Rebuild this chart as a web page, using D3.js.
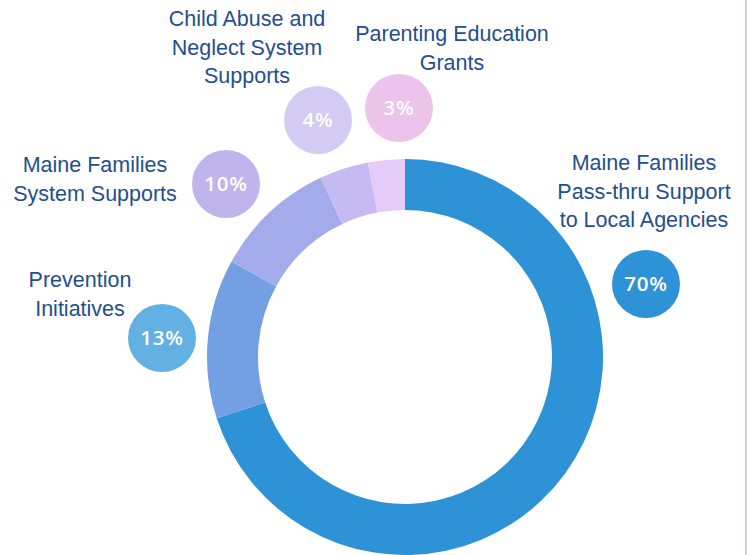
<!DOCTYPE html>
<html>
<head>
<meta charset="utf-8">
<script src="https://cdn.jsdelivr.net/npm/d3@7"></script>
<style>
 body { margin: 0; background: #fff; }
 svg { display: block; }
</style>
</head>
<body>
<div id="chart"></div>
<script>
// data
var categories = ["Maine Families Pass-thru Support to Local Agencies", "Prevention Initiatives",
  "Maine Families System Supports", "Child Abuse and Neglect System Supports", "Parenting Education Grants"];
var values = [70, 13, 10, 4, 3];
var labelLines = [
  ["Maine Families", "Pass-thru Support", "to Local Agencies"],
  ["Prevention", "Initiatives"],
  ["Maine Families", "System Supports"],
  ["Child Abuse and", "Neglect System", "Supports"],
  ["Parenting Education", "Grants"]
];
var sliceColors = ["#2e93d6", "#739fe3", "#a3abeb", "#c6baf3", "#e4cbf8"];
var bubbleColors = ["#2e93d6", "#63b0e2", "#c0b4ec", "#d3cbf3", "#ecc3ea"];

// annotation layout (bubble centre, label centre x, first baseline)
var bubblePos = [[646, 284], [162, 338], [226, 184], [318, 120], [399, 108]];
var labelPos = [[644, 170], [80, 287], [95, 172], [247, 26], [452, 41]];

var width = 747, height = 555;
var cx = 405, cy = 357, outerR = 198, innerR = 147, bubbleR = 34, lineH = 28.5;

var svg = d3.select("#chart").append("svg")
  .attr("width", width)
  .attr("height", height);

var pie = d3.pie().sort(null).value(function(d){ return d; });
var arc = d3.arc().innerRadius(innerR).outerRadius(outerR);

svg.append("g")
  .attr("transform", "translate(" + cx + "," + cy + ")")
  .selectAll("path")
  .data(pie(values))
  .enter().append("path")
  .attr("d", arc)
  .attr("fill", function(d, i){ return sliceColors[i]; });

// bubbles with percent
var b = svg.selectAll("g.bubble")
  .data(values)
  .enter().append("g")
  .attr("class", "bubble")
  .attr("transform", function(d, i){ return "translate(" + bubblePos[i][0] + "," + bubblePos[i][1] + ")"; });

b.append("circle")
  .attr("r", bubbleR)
  .attr("fill", function(d, i){ return bubbleColors[i]; });

b.append("text")
  .attr("text-anchor", "middle")
  .attr("dy", "0.36em")
  .attr("fill", "#fff")
  .style("font-family", "'Open Sans', sans-serif")
  .style("font-weight", "600")
  .style("font-size", "20.5px")
  .style("letter-spacing", "0.8px")
  .text(function(d){ return d + "%"; });

// category labels
labelLines.forEach(function(lines, i){
  var t = svg.append("text")
    .attr("text-anchor", "middle")
    .attr("fill", "#234f8e")
    .style("font-family", "'Liberation Sans', Arial, sans-serif")
    .style("font-size", "21.5px");
  lines.forEach(function(l, j){
    t.append("tspan")
      .attr("x", labelPos[i][0])
      .attr("y", labelPos[i][1] + j * lineH)
      .text(l);
  });
});

// thin edge strip at the right
svg.append("rect")
  .attr("x", 745).attr("y", 0)
  .attr("width", 2).attr("height", height)
  .attr("fill", "#d8cccc");
</script>
</body>
</html>
